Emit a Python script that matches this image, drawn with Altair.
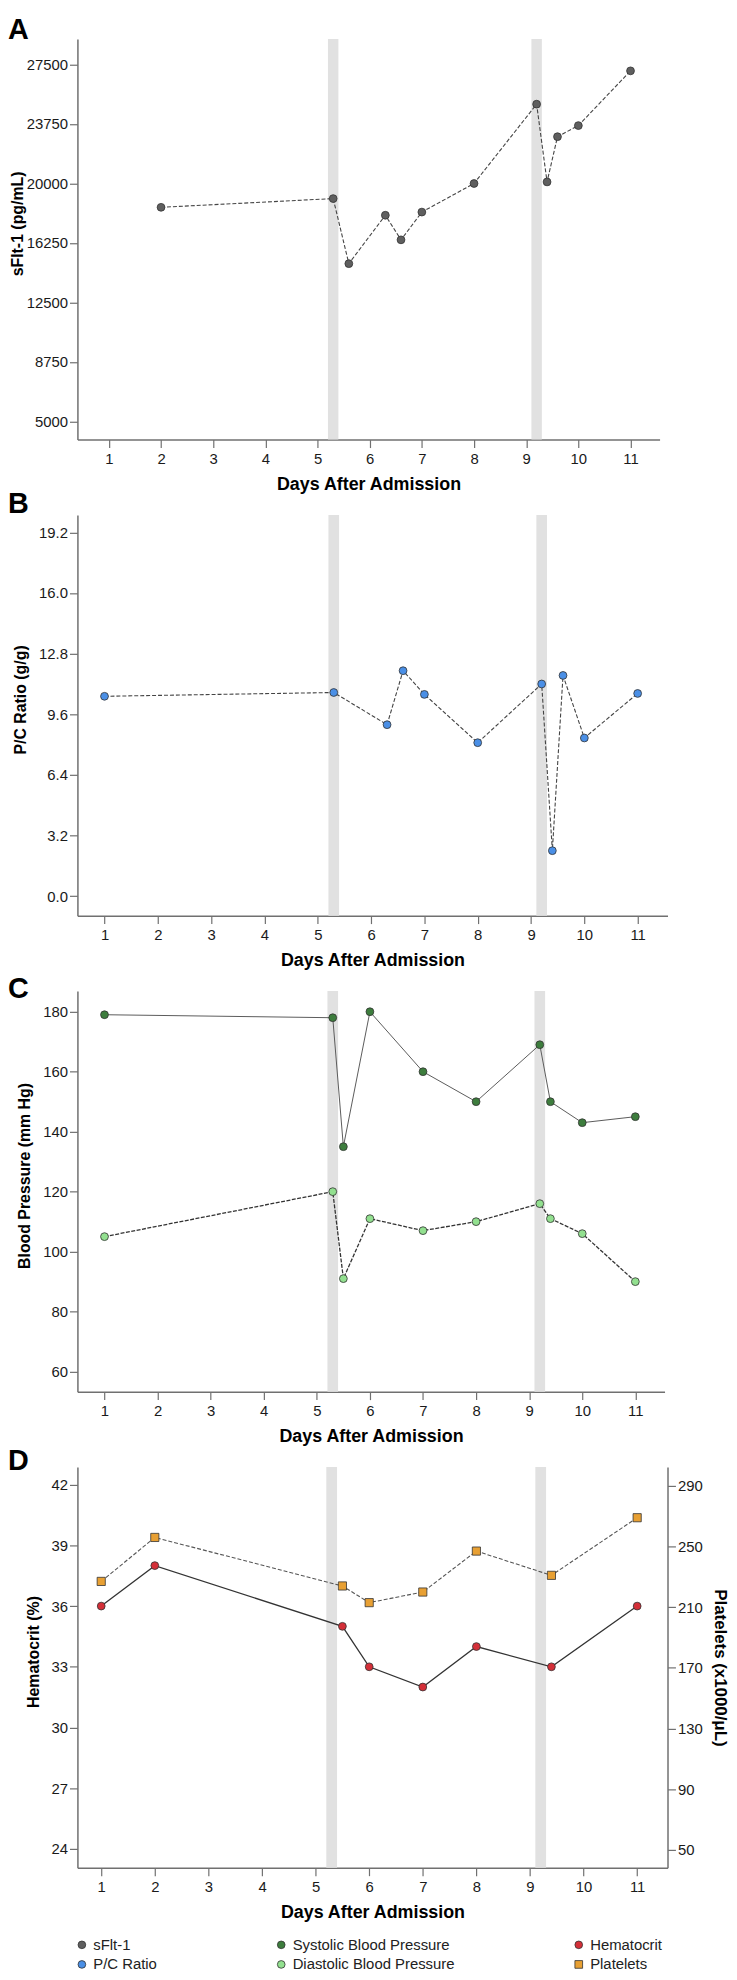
import altair as alt
import pandas as pd

# ---------------- data ----------------
# Panel A: sFlt-1
sflt_days = [2, 5.3, 5.6, 6.3, 6.6, 7, 8, 9.2, 9.4, 9.6, 10, 11]
sflt_values = [18500, 19050, 14950, 18000, 16450, 18200, 20000, 25000, 20100, 22950, 23650, 27100]
# Panel B: P/C ratio
pc_days = [1, 5.3, 6.3, 6.6, 7, 8, 9.2, 9.4, 9.6, 10, 11]
pc_values = [10.55, 10.75, 9.05, 11.9, 10.65, 8.1, 11.2, 2.4, 11.65, 8.35, 10.7]
# Panel C: blood pressure
bp_days = [1, 5.3, 5.5, 6, 7, 8, 9.2, 9.4, 10, 11]
systolic_values = [179, 178, 135, 180, 160, 150, 169, 150, 143, 145]
diastolic_values = [105, 120, 91, 111, 107, 110, 116, 111, 106, 90]
# Panel D: hematocrit / platelets
blood_days = [1, 2, 5.5, 6, 7, 8, 9.4, 11]
hematocrit_values = [36, 38, 35, 33, 32, 34, 33, 36]
platelet_values = [227, 256, 224, 213, 220, 247, 231, 269]

# shaded intervals
band_starts = [5.2, 9.1]
band_ends = [5.4, 9.3]

# tick labels
day_ticks = list(range(1, 12))
sflt_ticks = [5000, 8750, 12500, 16250, 20000, 23750, 27500]
pc_ticks = [0.0, 3.2, 6.4, 9.6, 12.8, 16.0, 19.2]
bp_ticks = [60, 80, 100, 120, 140, 160, 180]
hct_ticks = [24, 27, 30, 33, 36, 39, 42]
plt_ticks = [50, 90, 130, 170, 210, 250, 290]

# legend entries (filled column by column: 3 columns x 2 rows)
series_names = ["sFlt-1", "P/C Ratio", "Systolic Blood Pressure",
                "Diastolic Blood Pressure", "Hematocrit", "Platelets"]
series_colors = ["#5f5f5f", "#4a8fe6", "#3d7d3d", "#92e08f", "#d42f38", "#e8a033"]
series_shapes = ["circle", "circle", "circle", "circle", "circle", "square"]

panel_letters = ["A", "B", "C", "D"]

# ---------------- helpers ----------------
FONT = "Liberation Sans"
H = 404

legend = alt.Legend(title=None, orient="none", legendX=-3, legendY=1914,
                    columns=3, columnPadding=117, rowPadding=4, labelLimit=400,
                    symbolSize=60, symbolStrokeColor="#333333", symbolStrokeWidth=0.8,
                    labelFont=FONT, labelFontSize=15, labelColor="#222222",
                    labelOffset=4, padding=0)
color_enc = alt.Color("series:N", scale=alt.Scale(domain=series_names, range=series_colors), legend=legend)
shape_enc = alt.Shape("series:N", scale=alt.Scale(domain=series_names, range=series_shapes), legend=legend)


def x_enc(field, dom):
    return alt.X(field, type="quantitative",
                 scale=alt.Scale(domain=dom, nice=False, zero=False),
                 axis=alt.Axis(values=day_ticks, format="d", title="Days After Admission",
                               titleY=45, titleBaseline="middle", titleFontSize=18,
                               labelPadding=4))


def y_enc(dom, ticks, fmt, title, orient="left", tpad=10, centered=False, tsize=16):
    kw = dict(values=ticks, format=fmt, title=title, orient=orient, titlePadding=tpad,
              titleFontSize=tsize)
    if not centered:
        kw["titleY"] = H / 2 - 16
    return alt.Y("value:Q", scale=alt.Scale(domain=dom, nice=False, zero=False),
                 axis=alt.Axis(**kw))


def bands(dom):
    df = pd.DataFrame({"start": band_starts, "end": band_ends})
    return alt.Chart(df).mark_rect(color="#e1e1e1").encode(
        x=x_enc("start", dom), x2="end", y=alt.value(0), y2=alt.value(H))


def line(df, dom, yenc, dash, col, w):
    kw = dict(color=col, strokeWidth=w)
    if dash:
        kw["strokeDash"] = dash
    return alt.Chart(df).mark_line(**kw).encode(x=x_enc("day", dom), y=yenc)


def points(df, dom, yenc, size=62):
    return alt.Chart(df).mark_point(filled=True, size=size, opacity=1,
                                    stroke="#333333", strokeWidth=0.8).encode(
        x=x_enc("day", dom), y=yenc, color=color_enc, shape=shape_enc)


def letter(ch, dy):
    df = pd.DataFrame({"label": [ch]})
    return alt.Chart(df).mark_text(align="left", baseline="top", font=FONT,
                                   fontSize=29, fontWeight="bold", color="#000000").encode(
        x=alt.value(-70), y=alt.value(dy), text="label:N")


def anchor(dx, dy):
    # invisible corner mark fixing the top-left of the drawing
    df = pd.DataFrame({"k": [0]})
    return alt.Chart(df).mark_rule(strokeOpacity=0, strokeWidth=0.01).encode(
        x=alt.value(dx), x2=alt.value(dx + 1), y=alt.value(dy), y2=alt.value(dy + 1))


def frame(days, values, name):
    return pd.DataFrame({"day": days, "value": values, "series": name})


# ---------------- panel A ----------------
domA = [0.397, 11.557]
yA = y_enc([3860, 29110], sflt_ticks, "d", "sFlt-1 (pg/mL)", tpad=1)
dfA = frame(sflt_days, sflt_values, "sFlt-1")
panelA = alt.layer(
    bands(domA),
    line(dfA, domA, yA, [4, 2], "#444444", 1.1),
    points(dfA, domA, yA),
    letter(panel_letters[0], -23),
    anchor(-70, -23),
).properties(width=587, height=H)

# ---------------- panel B ----------------
domB = [0.492, 11.56]
yB = y_enc([-1.03, 20.12], pc_ticks, ".1f", "P/C Ratio (g/g)")
dfB = frame(pc_days, pc_values, "P/C Ratio")
panelB = alt.layer(
    bands(domB),
    line(dfB, domB, yB, [4, 2], "#444444", 1.1),
    points(dfB, domB, yB),
    letter(panel_letters[1], -25),
).properties(width=595, height=H)

# ---------------- panel C ----------------
domC = [0.49, 11.55]
yC = y_enc([53.3, 186.9], bp_ticks, "d", "Blood Pressure (mm Hg)")
dfS = frame(bp_days, systolic_values, "Systolic Blood Pressure")
dfDi = frame(bp_days, diastolic_values, "Diastolic Blood Pressure")
panelC = alt.layer(
    bands(domC),
    line(dfS, domC, yC, None, "#5a5a5a", 1.0),
    line(dfDi, domC, yC, [4, 1.5], "#333333", 1.3),
    points(dfS, domC, yC),
    points(dfDi, domC, yC),
    letter(panel_letters[2], -16),
).properties(width=592, height=H)

# ---------------- panel D ----------------
domD = [0.556, 11.566]
yH = y_enc([23.07, 42.87], hct_ticks, "d", "Hematocrit (%)")
yP = y_enc([38.2, 302.4], plt_ticks, "d", "Platelets (x1000/\u03bcL)", orient="right",
           tpad=8, centered=True, tsize=17)
dfH = frame(blood_days, hematocrit_values, "Hematocrit")
dfP = frame(blood_days, platelet_values, "Platelets")
hct_layer = alt.layer(line(dfH, domD, yH, None, "#333333", 1.3), points(dfH, domD, yH))
plt_layer = alt.layer(line(dfP, domD, yP, [4, 2], "#555555", 1.1), points(dfP, domD, yP, size=68))
panelD = alt.layer(
    bands(domD),
    hct_layer,
    plt_layer,
    letter(panel_letters[3], -20),
).resolve_scale(y="independent").properties(width=595, height=H)

chart = alt.vconcat(panelA, panelB, panelC, panelD, spacing=76, bounds="flush").properties(
    padding=0
).configure_view(stroke=None).configure_axis(
    labelFont=FONT, labelFontSize=15, labelColor="#1a1a1a",
    titleFont=FONT, titleFontWeight="bold", titleColor="#000000",
    domainColor="#707070", domainWidth=1.5, tickColor="#707070", tickWidth=1.2,
    tickSize=8, grid=False,
).configure_axisY(labelPadding=2)

chart.save("out.html", embed_options={"renderer": "svg", "actions": False})
